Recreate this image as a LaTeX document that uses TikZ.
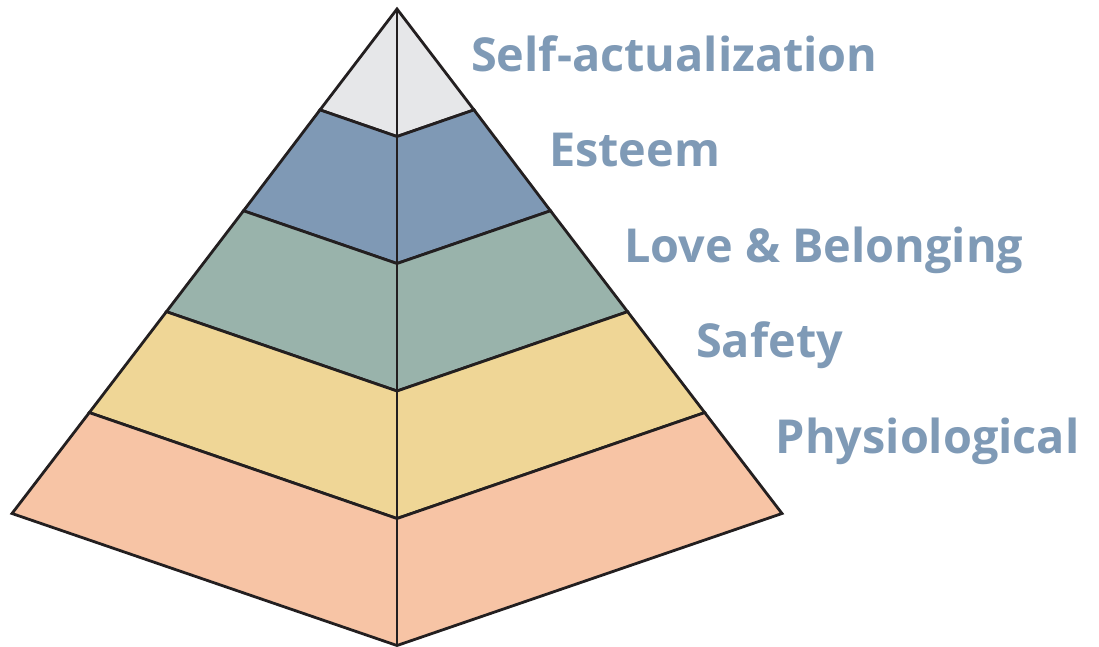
\documentclass[tikz,border=0pt]{standalone}
\usepackage{fontspec}
\setmainfont{Open Sans}
\definecolor{labelblue}{HTML}{7F9AB6}
\definecolor{edge}{HTML}{231F20}
\definecolor{tierA}{HTML}{E6E7E9}
\definecolor{tierB}{HTML}{7F99B5}
\definecolor{tierC}{HTML}{99B3AB}
\definecolor{tierD}{HTML}{EFD696}
\definecolor{tierE}{HTML}{F7C4A5}
\tikzset{
  tier/.style={draw=edge, line width=2.8pt, line join=miter},
  ridge/.style={draw=edge, line width=2.8pt},
  tierlabel/.style={anchor=base west, inner sep=0pt, text=labelblue,
    font=\fontsize{46.8}{50}\selectfont\bfseries}
}
\begin{document}
\begin{tikzpicture}[x=1pt,y=-1pt]
\useasboundingbox (0,0) rectangle (1099,647);
% apex and the left, centre and right corners of each tier boundary
\coordinate (A)  at (397,9);
\coordinate (L1) at (320.0,109.9); \coordinate (C1) at (397,136.5); \coordinate (R1) at (474.0,109.9);
\coordinate (L2) at (243.5,210.8); \coordinate (C2) at (397,263.5); \coordinate (R2) at (550.5,210.8);
\coordinate (L3) at (166.4,311.7); \coordinate (C3) at (397,391.0); \coordinate (R3) at (627.6,311.7);
\coordinate (L4) at (89.3,412.6);  \coordinate (C4) at (397,518.5); \coordinate (R4) at (704.7,412.6);
\coordinate (L5) at (12.0,513.5);  \coordinate (C5) at (397,645.5); \coordinate (R5) at (782.0,513.5);
% tiers, from the top down
\filldraw[tier, fill=tierA] (A) -- (R1) -- (C1) -- (L1) -- cycle;
\filldraw[tier, fill=tierB] (L1) -- (C1) -- (R1) -- (R2) -- (C2) -- (L2) -- cycle;
\filldraw[tier, fill=tierC] (L2) -- (C2) -- (R2) -- (R3) -- (C3) -- (L3) -- cycle;
\filldraw[tier, fill=tierD] (L3) -- (C3) -- (R3) -- (R4) -- (C4) -- (L4) -- cycle;
\filldraw[tier, fill=tierE] (L4) -- (C4) -- (R4) -- (R5) -- (C5) -- (L5) -- cycle;
% front ridge
\draw[ridge] (A) -- (C5);
% labels
\node[tierlabel] (self)   at (471,72)    {Self-actualization};
\node[tierlabel] (esteem) at (549,166.7) {Esteem};
\node[tierlabel] (love)   at (624,262.5) {Love \& Belonging};
\node[tierlabel] (safety) at (696,357.5) {Safety};
\node[tierlabel] (phys)   at (775.5,453.8) {Physiological};
\end{tikzpicture}
\end{document}
